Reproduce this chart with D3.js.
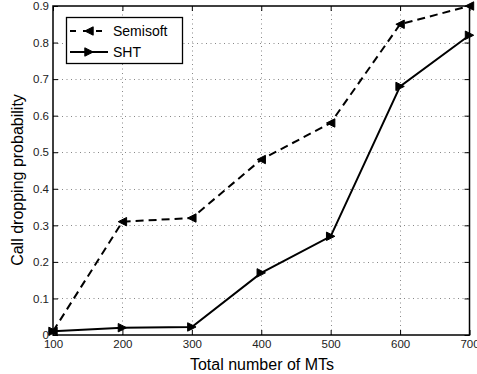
<!DOCTYPE html>
<html>
<head>
<meta charset="utf-8">
<script src="https://cdn.jsdelivr.net/npm/d3@7"></script>
<style>
  html, body { margin: 0; padding: 0; background: #fff; }
  svg { display: block; font-family: "Liberation Sans", Arial, sans-serif; }
</style>
</head>
<body>
<svg id="chart" width="477" height="374"></svg>
<script>
// Call dropping probability versus number of mobile terminals
const mtCounts = [100, 200, 300, 400, 500, 600, 700];
const semisoftValues = [0.01, 0.31, 0.32, 0.48, 0.58, 0.85, 0.90];
const shtValues = [0.01, 0.02, 0.022, 0.17, 0.27, 0.68, 0.82];
const xTickValues = [100, 200, 300, 400, 500, 600, 700];
const yTickValues = [0, 0.1, 0.2, 0.3, 0.4, 0.5, 0.6, 0.7, 0.8, 0.9];
const seriesNames = ["Semisoft", "SHT"];

const svg = d3.select("#chart");
const margin = { left: 53, right: 7.5, top: 6, bottom: 39 };
const W = 477, H = 374;
const x = d3.scaleLinear().domain([100, 700]).range([margin.left, W - margin.right]);
const y = d3.scaleLinear().domain([0, 0.9]).range([H - margin.bottom, margin.top]);

const x0 = x.range()[0], x1 = x.range()[1];
const yb = y.range()[0], yt = y.range()[1];

// dotted grid
const grid = svg.append("g").attr("stroke", "#888").attr("stroke-width", 1)
  .attr("stroke-dasharray", "1,3.5");
grid.selectAll(".gx").data(xTickValues.slice(1, -1)).join("line")
  .attr("x1", d => Math.round(x(d)) + 0.5).attr("x2", d => Math.round(x(d)) + 0.5)
  .attr("y1", yb).attr("y2", yt);
grid.selectAll(".gy").data(yTickValues.slice(1, -1)).join("line")
  .attr("y1", d => Math.round(y(d)) + 0.5).attr("y2", d => Math.round(y(d)) + 0.5)
  .attr("x1", x0).attr("x2", x1);

// axes with inward ticks
const fontSize = 11.5;
const xAxis = d3.axisBottom(x).tickValues(xTickValues).tickSize(-5).tickPadding(5)
  .tickFormat(d3.format("d"));
const yAxis = d3.axisLeft(y).tickValues(yTickValues).tickSize(-5).tickPadding(4)
  .tickFormat(d => d === 0 ? "0" : d3.format(".1f")(d));
const xTop = d3.axisTop(x).tickValues(xTickValues).tickSize(-5).tickFormat("");
const yRight = d3.axisRight(y).tickValues(yTickValues).tickSize(-5).tickFormat("");

function styleAxis(g) {
  g.select(".domain").remove();
  g.selectAll(".tick line").attr("stroke", "#000").attr("stroke-width", 1);
  g.selectAll(".tick text").attr("fill", "#222").style("font-size", fontSize + "px");
}
svg.append("g").attr("transform", `translate(0,${yb})`).call(xAxis).call(styleAxis);
svg.append("g").attr("transform", `translate(${x0},0)`).call(yAxis).call(styleAxis);
svg.append("g").attr("transform", `translate(0,${yt})`).call(xTop).call(styleAxis);
svg.append("g").attr("transform", `translate(${x1},0)`).call(yRight).call(styleAxis);

// plot frame
svg.append("rect").attr("x", x0).attr("y", yt).attr("width", x1 - x0).attr("height", yb - yt)
  .attr("fill", "none").attr("stroke", "#000").attr("stroke-width", 1.5);

// series
const line = d3.line().x((d, i) => x(mtCounts[i])).y(d => y(d));
function triangle(dir, s) {
  // dir: -1 points left, +1 points right
  return `M${dir * s},0 L${-dir * s},${-s} L${-dir * s},${s} Z`;
}
const series = [
  { name: seriesNames[0], values: semisoftValues, dash: "8,5", legendDash: "6,7", dir: -1 },
  { name: seriesNames[1], values: shtValues, dash: null, legendDash: null, dir: 1 }
];

series.forEach(s => {
  const g = svg.append("g");
  g.append("path").datum(s.values).attr("d", line)
    .attr("fill", "none").attr("stroke", "#000").attr("stroke-width", 2)
    .attr("stroke-dasharray", s.dash);
  g.selectAll("path.m").data(s.values).join("path").attr("class", "m")
    .attr("transform", (d, i) => `translate(${x(mtCounts[i])},${y(d)})`)
    .attr("d", triangle(s.dir, 4.2))
    .attr("fill", "#000").attr("stroke", "#000").attr("stroke-width", 1);
});

// legend
const lg = svg.append("g");
lg.append("rect").attr("x", 66.5).attr("y", 17.5).attr("width", 116).attr("height", 46)
  .attr("fill", "#fff").attr("stroke", "#000").attr("stroke-width", 1.3);
series.forEach((s, i) => {
  const cy = 31 + i * 21;
  lg.append("line").attr("x1", 70).attr("x2", 108).attr("y1", cy).attr("y2", cy)
    .attr("stroke", "#000").attr("stroke-width", 2).attr("stroke-dasharray", s.legendDash);
  lg.append("path").attr("transform", `translate(89,${cy})`).attr("d", triangle(s.dir, 4.2))
    .attr("fill", "#000").attr("stroke", "#000").attr("stroke-width", 1);
  lg.append("text").attr("x", 113).attr("y", cy).attr("dy", "0.36em")
    .style("font-size", "14px").attr("fill", "#000").text(s.name);
});

// axis titles
svg.append("text").attr("x", 262).attr("y", 370).attr("text-anchor", "middle")
  .style("font-size", "16px").attr("fill", "#000").text("Total number of MTs");
svg.append("text").attr("transform", `translate(23,180) rotate(-90)`)
  .attr("text-anchor", "middle").style("font-size", "16px").attr("fill", "#000")
  .text("Call dropping probability");
</script>
</body>
</html>
